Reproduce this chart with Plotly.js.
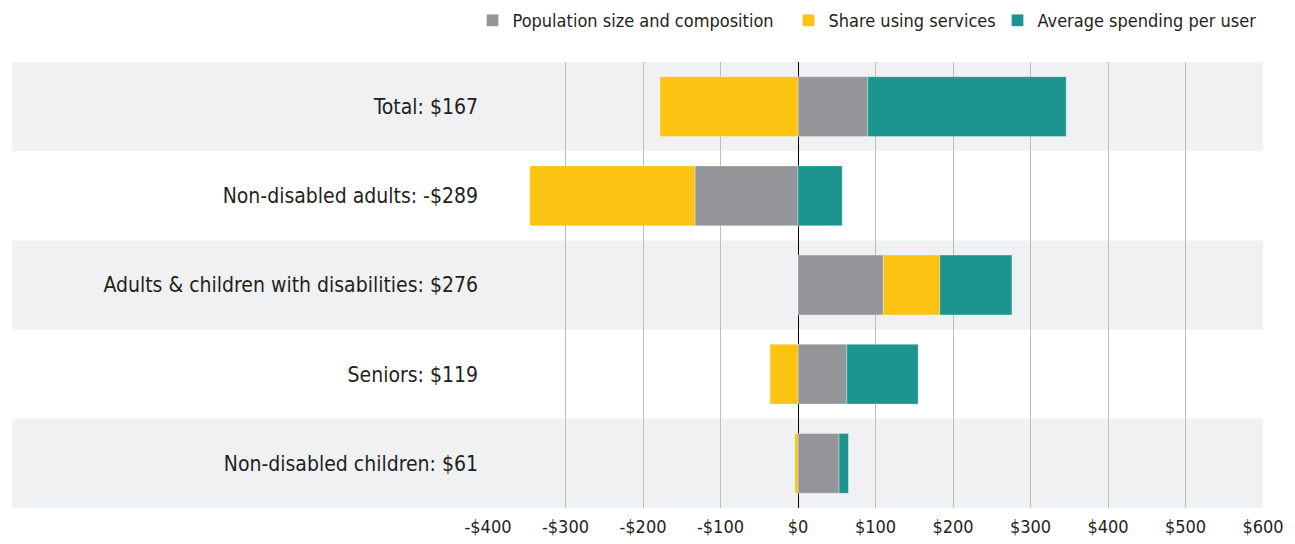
<!DOCTYPE html>
<html>
<head>
<meta charset="utf-8">
<script src="https://cdn.plot.ly/plotly-3.0.1.min.js"></script>
<style>
  body { margin: 0; background: #fff; }
  #chart { width: 1295px; height: 544px; }
</style>
</head>
<body>
<div id="chart"></div>
<script>
// groups, top to bottom
var groups = [
  'Total: $167',
  'Non-disabled adults: -$289',
  'Adults & children with disabilities: $276',
  'Seniors: $119',
  'Non-disabled children: $61'
];

// contribution of each factor (dollars)
var popSize = [90, -133, 110, 63, 53];
var shareUsing = [-178, -213, 73, -36, -4];
var avgSpending = [256, 57, 93, 92, 12];

var xTicks = [-400, -300, -200, -100, 0, 100, 200, 300, 400, 500, 600];
var xTickText = ['-$400', '-$300', '-$200', '-$100', '$0', '$100', '$200', '$300', '$400', '$500', '$600'];

var fontFam = 'Liberation Sans Narrow, DejaVu Sans Condensed, Arial Narrow, sans-serif';

function barTrace(name, vals, color, legendId) {
  return {
    type: 'bar',
    orientation: 'h',
    name: name,
    y: groups,
    x: vals,
    width: 0.67,
    legend: legendId,
    marker: { color: color, line: { color: 'rgba(255,255,255,0.6)', width: 0.5 } },
    hoverinfo: 'x+name'
  };
}

var data = [
  barTrace('Population size and composition', popSize, '#939598', 'legend'),
  barTrace('Share using services', shareUsing, '#fcc313', 'legend2'),
  barTrace('Average spending per user', avgSpending, '#1b958e', 'legend3')
];

// alternating background bands
var shapes = [];
for (var i = 0; i < groups.length; i++) {
  if (i % 2 === 0) {
    shapes.push({
      type: 'rect', layer: 'below',
      xref: 'paper', x0: -0.614, x1: 1,
      yref: 'y', y0: i - 0.5, y1: i + 0.5,
      fillcolor: '#f0f1f3', line: { width: 0 }
    });
  }
}

// one legend per series so each key sits where the original has it
function legendAt(x) {
  return {
    orientation: 'h',
    xref: 'container', yref: 'container',
    x: x, xanchor: 'left',
    y: 0.962, yanchor: 'middle',
    bgcolor: 'rgba(0,0,0,0)',
    font: { family: fontFam, size: 18, color: '#231f20' }
  };
}

var layout = {
  width: 1295,
  height: 544,
  margin: { l: 488, r: 32, t: 62, b: 36 },
  paper_bgcolor: '#ffffff',
  plot_bgcolor: 'rgba(0,0,0,0)',
  barmode: 'relative',
  font: { family: fontFam, size: 18, color: '#231f20' },
  showlegend: true,
  legend: legendAt(0.3649),
  legend2: legendAt(0.6089),
  legend3: legendAt(0.7703),
  xaxis: {
    range: [-400, 600],
    tickvals: xTicks,
    ticktext: xTickText,
    showgrid: true,
    gridcolor: '#bdbdbd',
    gridwidth: 1,
    zeroline: true,
    zerolinecolor: '#000000',
    zerolinewidth: 1,
    showline: false,
    ticks: '',
    ticklabelstandoff: 6,
    tickfont: { family: fontFam, size: 18, color: '#231f20' },
    layer: 'above traces'
  },
  yaxis: {
    type: 'category',
    categoryorder: 'array',
    categoryarray: groups,
    range: [4.5, -0.5],
    showgrid: false,
    zeroline: false,
    ticks: '',
    ticklabelstandoff: 9,
    tickfont: { family: fontFam, size: 21, color: '#231f20' }
  },
  shapes: shapes
};

Plotly.newPlot('chart', data, layout, { displayModeBar: false });
</script>
</body>
</html>
